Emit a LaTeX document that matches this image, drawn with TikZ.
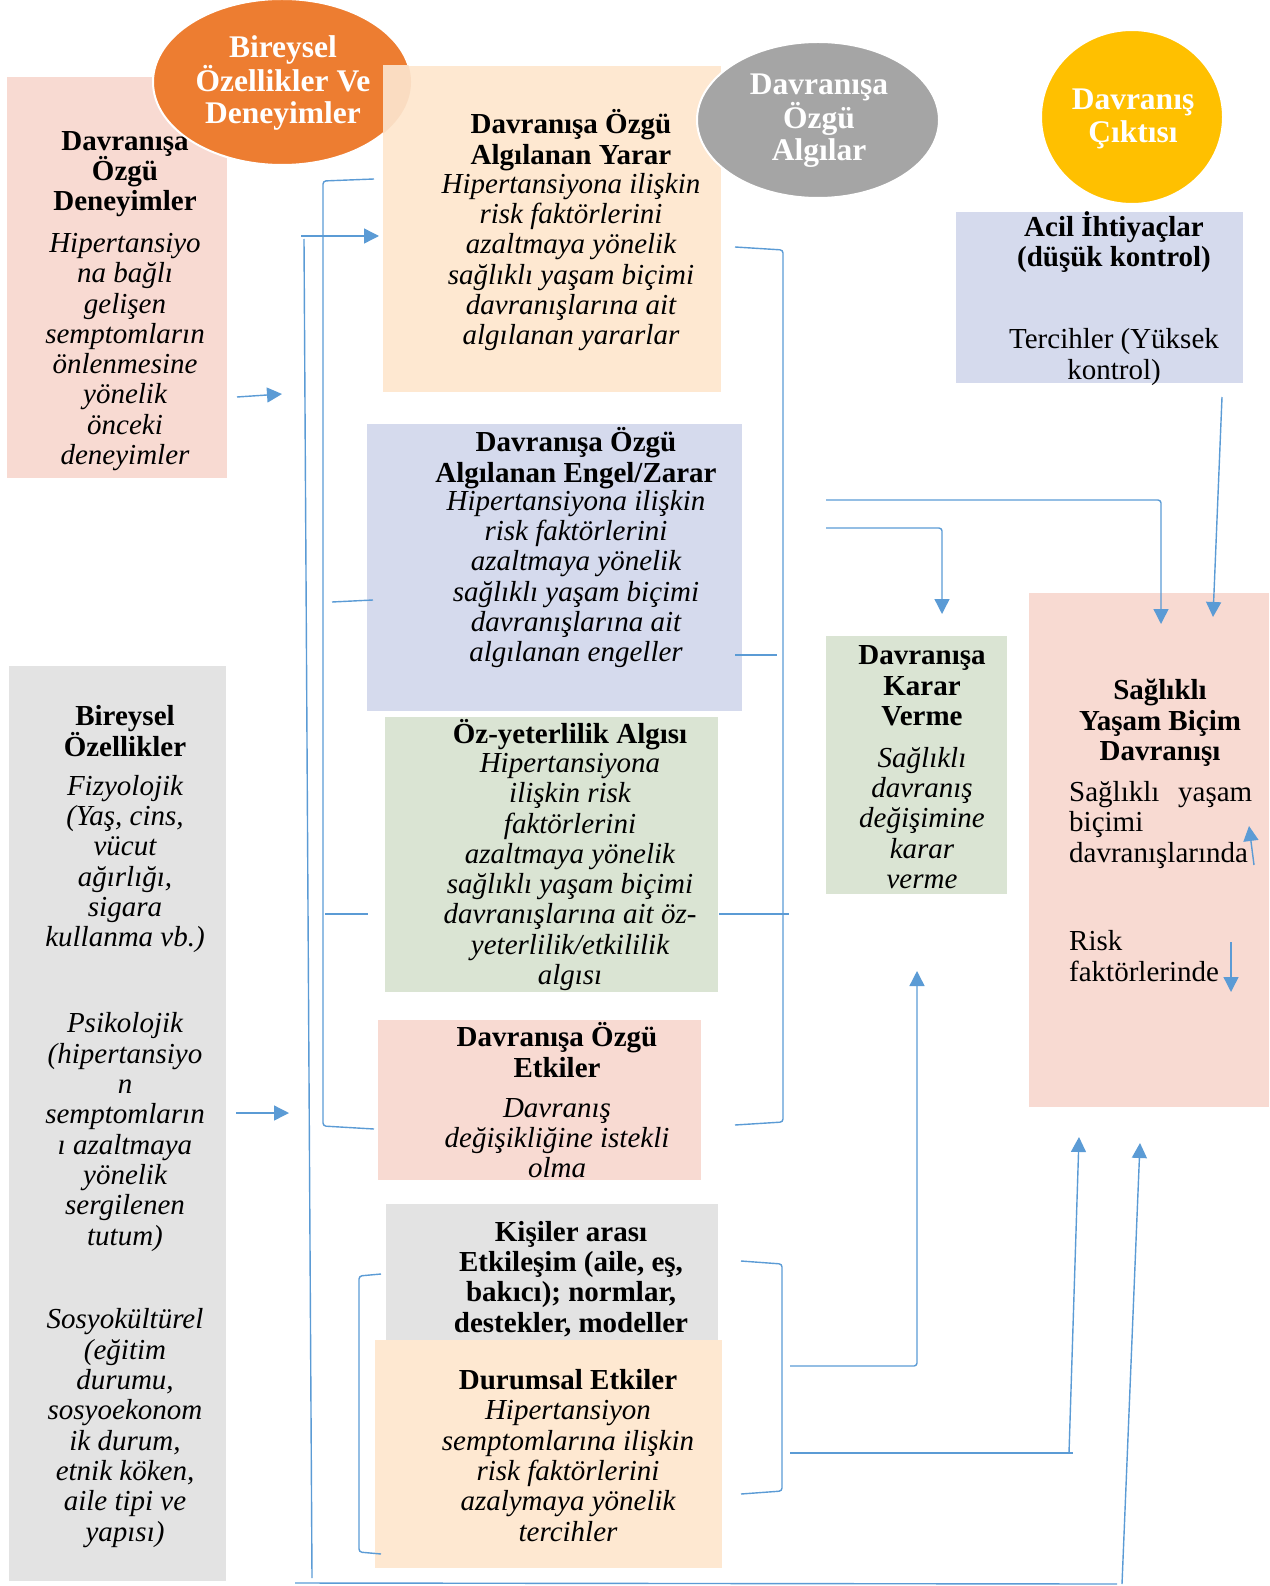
\documentclass[tikz,border=0pt]{standalone}
\usepackage{fontspec}
\setmainfont{Liberation Serif}
\usetikzlibrary{shapes.geometric,arrows.meta}

\definecolor{linkC}{HTML}{5B9BD5}
\definecolor{pinkC}{HTML}{F8DAD2}
\definecolor{peachC}{HTML}{FEE8D1}
\definecolor{blendC}{HTML}{FADCC1}
\definecolor{blueC}{HTML}{D5DAED}
\definecolor{greenC}{HTML}{DAE4D3}
\definecolor{greyC}{HTML}{E3E3E3}
\definecolor{orangeC}{HTML}{ED7D31}
\definecolor{silverC}{HTML}{A5A5A5}
\definecolor{goldC}{HTML}{FFC000}

\tikzset{
  panel/.style={inner sep=0pt, outer sep=0pt, draw=none, fill=#1, anchor=north west},
  head/.style={align=center, inner sep=0pt, font=\bfseries\fontsize{29}{30.3}\selectfont},
  body/.style={align=center, inner sep=0pt, font=\itshape\fontsize{29}{30.3}\selectfont},
  plain/.style={inner sep=0pt, font=\fontsize{29}{30.3}\selectfont},
  badge/.style={ellipse, inner sep=0pt, outer sep=0pt, draw=white, line width=2pt, fill=#1},
  badgetext/.style={align=center, inner sep=0pt, text=white, font=\bfseries\fontsize{31.5}{32.5}\selectfont},
  link/.style={draw=linkC, line width=1.4pt, rounded corners=3pt},
  tip/.style={link, -{Triangle[length=15pt,width=15pt]}},
}

\begin{document}
\begin{tikzpicture}[x=1pt,y=-1pt]
\useasboundingbox (0,0) rectangle (1269,1586);

% ---------- left column ----------
\node[panel=pinkC, minimum width=220pt, minimum height=401pt] (deneyBox) at (7,77) {};
\node[head] (deneyHead) at (125,174) {Davranışa\\Özgü\\Deneyimler};
\node[body] (deneyBody) at (125,352) {Hipertansiyo\\na bağlı\\gelişen\\semptomların\\önlenmesine\\yönelik\\önceki\\deneyimler};

\node[panel=greyC, minimum width=217pt, minimum height=915pt] (bireyBox) at (9,666) {};
\node[head] (bireyHead) at (125,731) {Bireysel\\Özellikler};
\node[body] (fizyo) at (125,864) {Fizyolojik\\(Yaş, cins,\\vücut\\ağırlığı,\\sigara\\kullanma vb.)};
\node[body] (psiko) at (125,1132) {Psikolojik\\(hipertansiyo\\n\\semptomların\\ı azaltmaya\\yönelik\\sergilenen\\tutum)};
\node[body] (sosyo) at (125,1428) {Sosyokültürel\\(eğitim\\durumu,\\sosyoekonom\\ik durum,\\etnik köken,\\aile tipi ve\\yapısı)};

% ---------- header badge over the first column ----------
\node[badge=orangeC, minimum width=258pt, minimum height=166pt] (ovalBirey) at (282,82) {};

% ---------- middle column ----------
\node[panel=peachC, minimum width=338pt, minimum height=326pt] (yararBox) at (383,66) {};
\begin{scope}
  \clip (383,66) rectangle (721,392);
  \fill[blendC] (282,82) ellipse [x radius=129pt, y radius=83pt];
\end{scope}
\node[badgetext] (ovalBireyText) at (283,83) {Bireysel\\Özellikler Ve\\Deneyimler};
\node[head] (yararHead) at (571,140) {Davranışa Özgü\\Algılanan Yarar};
\node[body] (yararBody) at (571,262) {Hipertansiyona ilişkin\\risk faktörlerini\\azaltmaya yönelik\\sağlıklı yaşam biçimi\\davranışlarına ait\\algılanan yararlar};

\node[badge=silverC, minimum width=242pt, minimum height=156pt] (ovalAlgi) at (818,120) {};
\node[badgetext] (ovalAlgiText) at (819,121) {Davranışa\\Özgü\\Algılar};

\node[panel=blueC, minimum width=375pt, minimum height=287pt] (engelBox) at (367,424) {};
\node[head] (engelHead) at (576,458) {Davranışa Özgü\\Algılanan Engel/Zarar};
\node[body] (engelBody) at (576,579) {Hipertansiyona ilişkin\\risk faktörlerini\\azaltmaya yönelik\\sağlıklı yaşam biçimi\\davranışlarına ait\\algılanan engeller};

\node[panel=greenC, minimum width=333pt, minimum height=275pt] (ozBox) at (385,717) {};
\node[head] (ozHead) at (570,735) {Öz-yeterlilik Algısı};
\node[body] (ozBody) at (570,872) {Hipertansiyona\\ilişkin risk\\faktörlerini\\azaltmaya yönelik\\sağlıklı yaşam biçimi\\davranışlarına ait öz-\\yeterlilik/etkililik\\algısı};

\node[panel=pinkC, minimum width=323pt, minimum height=160pt] (etkiBox) at (378,1020) {};
\node[head] (etkiHead) at (557,1050) {Davranışa Özgü\\Etkiler};
\node[body] (etkiBody) at (557,1138) {Davranış\\değişikliğine istekli\\olma};

\node[panel=greyC, minimum width=332pt, minimum height=136pt] (kisiBox) at (386,1204) {};
\node[panel=peachC, minimum width=347pt, minimum height=228pt] (durumBox) at (375,1340) {};
\node[head] (kisiText) at (571,1279) {Kişiler arası\\Etkileşim (aile, eş,\\bakıcı); normlar,\\destekler, modeller};
\node[head] (durumHead) at (568,1380) {Durumsal Etkiler};
\node[body] (durumBody) at (568,1471) {Hipertansiyon\\semptomlarına ilişkin\\risk faktörlerini\\azalymaya yönelik\\tercihler};

% ---------- right side ----------
\node[badge=goldC, minimum width=182pt, minimum height=174pt] (ovalCikti) at (1132,117) {};
\node[badgetext] (ovalCiktiText) at (1133,119) {Davranış\\Çıktısı};

\node[panel=blueC, minimum width=287pt, minimum height=171pt] (acilBox) at (956,212) {};
\node[head] (acilHead) at (1114,242) {Acil İhtiyaçlar\\(düşük kontrol)};
\node[plain, align=center] (acilBody) at (1114,357) {Tercihler (Yüksek\\kontrol)};

\node[panel=greenC, minimum width=181pt, minimum height=258pt] (kararBox) at (826,636) {};
\node[head] (kararHead) at (922,686) {Davranışa\\Karar\\Verme};
\node[body] (kararBody) at (922,818) {Sağlıklı\\davranış\\değişimine\\karar\\verme};

\node[panel=pinkC, minimum width=240pt, minimum height=514pt] (saglikBox) at (1029,593) {};
\node[head] (saglikHead) at (1160,723) {Sağlıklı\\Yaşam Biçim\\Davranışı};
\node[plain, align=left, anchor=west] (saglikBody) at (1069,825) {\makebox[183pt][l]{Sağlıklı\hfill yaşam}\\biçimi\\davranışlarında};
\node[plain, align=left, anchor=west] (riskBody) at (1069,956) {Risk\\faktörlerinde};

% ---------- connectors ----------
% inputs from the first column
\coordinate (deneyOut) at (237,397);
\coordinate (deneyIn) at (282,394);
\draw[tip] (deneyOut) -- (deneyIn);
\coordinate (bireyOut) at (236,1113);
\coordinate (bireyIn) at (289,1113);
\draw[tip] (bireyOut) -- (bireyIn);

% feedback loop along the bottom and up the left side
\coordinate (loopA) at (1122,1584);
\coordinate (loopB) at (1140,1143);
\draw[tip] (loopA) -- (loopB);
\coordinate (baseL) at (295,1583);
\coordinate (baseR) at (1117,1584);
\draw[link] (baseL) -- (baseR);
\coordinate (sideBot) at (312,1578);
\coordinate (sideTop) at (304,239);
\draw[link] (sideBot) -- (sideTop);
\coordinate (topIn) at (301,236);
\coordinate (topTip) at (379,236);
\draw[tip] (topIn) -- (topTip);

% bracket joining the perception panels on the left
\draw[link] (374,179) -- (323,181) -- (323,1126) -- (374,1129);
\coordinate (engelStubA) at (332,602);
\coordinate (engelStubB) at (373,600);
\draw[link] (engelStubA) -- (engelStubB);
\coordinate (ozStubA) at (325,914);
\coordinate (ozStubB) at (368,914);
\draw[link] (ozStubA) -- (ozStubB);

% bracket joining the perception panels on the right
\draw[link] (735,247) -- (783,250) -- (783,1122) -- (735,1125);
\coordinate (engelStubC) at (735,655);
\coordinate (engelStubD) at (777,655);
\draw[link] (engelStubC) -- (engelStubD);
\coordinate (ozStubC) at (719,914);
\coordinate (ozStubD) at (789,914);
\draw[link] (ozStubC) -- (ozStubD);

% perceptions to decision and behaviour
\coordinate (toSaglik) at (826,500);
\draw[tip] (toSaglik) -- (1161,500) -- (1161,624);
\coordinate (toKarar) at (826,528);
\draw[tip] (toKarar) -- (942,528) -- (942,614);

% immediate needs to behaviour
\coordinate (acilOut) at (1222,397);
\coordinate (acilIn) at (1213,617);
\draw[tip] (acilOut) -- (acilIn);

% brackets of the interpersonal and situational panels
\draw[link] (381,1274) -- (359,1276) -- (359,1552) -- (381,1554);
\draw[link] (741,1261) -- (782,1264) -- (782,1491) -- (741,1494);
\coordinate (infA) at (790,1366);
\draw[tip] (infA) -- (917,1366) -- (917,971);
\coordinate (infB) at (790,1453);
\draw[link] (infB) -- (1073,1453);
\coordinate (infBup) at (1069,1453);
\coordinate (infBtip) at (1079,1137);
\draw[tip] (infBup) -- (infBtip);

% trend arrows inside the behaviour panel
\coordinate (upA) at (1254,865);
\coordinate (upB) at (1249,826);
\draw[tip] (upA) -- (upB);
\coordinate (downA) at (1231,942);
\coordinate (downB) at (1231,992);
\draw[tip] (downA) -- (downB);
\end{tikzpicture}
\end{document}
